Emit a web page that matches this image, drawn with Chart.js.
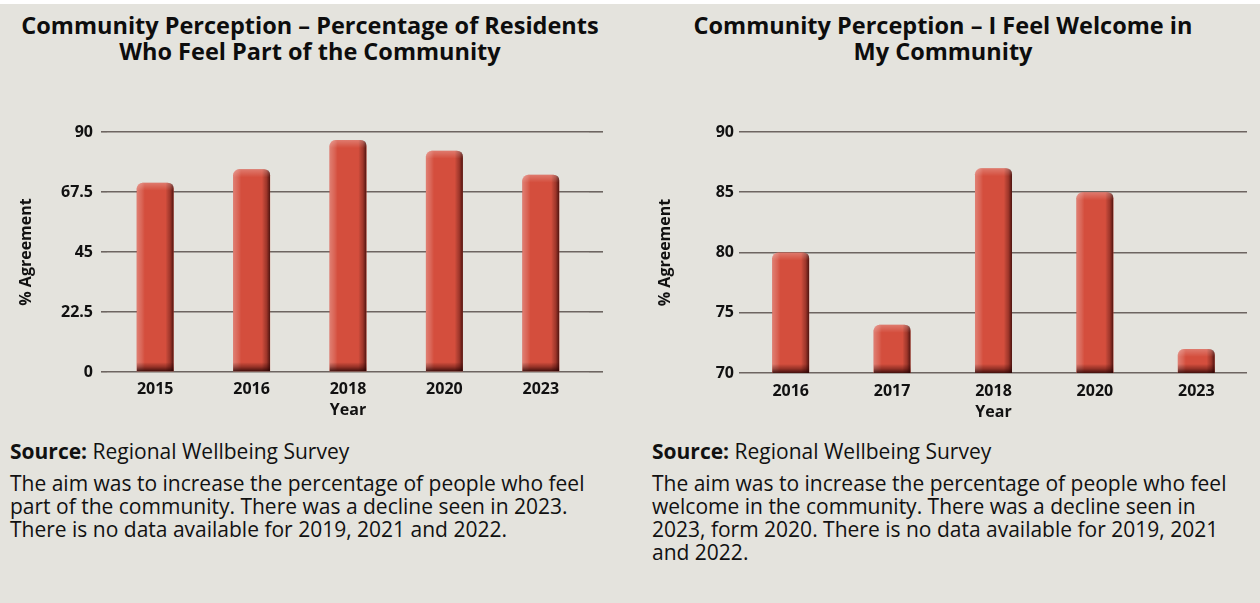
<!DOCTYPE html>
<html>
<head>
<meta charset="utf-8">
<script src="https://cdn.jsdelivr.net/npm/chart.js@4.4.1/dist/chart.umd.min.js"></script>
<style>
  html, body { margin:0; padding:0; }
  body { width:1260px; height:603px; background:#e4e3dd; position:relative; overflow:hidden;
         font-family:"Open Sans", "Noto Sans", sans-serif; color:#111; }
  .topbar { position:absolute; left:0; top:0; width:1260px; height:4px; background:#ffffff; }
  .title { position:absolute; font-weight:700; font-size:23.5px; line-height:26px; text-align:center; color:#0d0d0d; white-space:nowrap; }
  .src { position:absolute; font-size:21px; line-height:23px; white-space:nowrap; }
  .body { position:absolute; font-size:21px; line-height:23px; white-space:nowrap; }
  canvas { position:absolute; }
</style>
</head>
<body>
<div class="topbar"></div>
<div class="title" id="t1" style="left:0; top:12px; width:620px;">Community Perception – Percentage of Residents<br>Who Feel Part of the Community</div>
<div class="title" id="t2" style="left:640px; top:12px; width:606px;">Community Perception – I Feel Welcome in<br>My Community</div>

<div style="position:absolute; left:0; top:100px; width:630px; height:330px;"><canvas id="c1" width="630" height="330"></canvas></div>
<div style="position:absolute; left:640px; top:100px; width:620px; height:330px;"><canvas id="c2" width="620" height="330"></canvas></div>

<div class="src" style="left:10px; top:440px;"><b>Source:</b> Regional Wellbeing Survey</div>
<div class="body" style="left:10px; top:472px;">The aim was to increase the percentage of people who feel<br>part of the community. There was a decline seen in 2023.<br>There is no data available for 2019, 2021 and 2022.</div>

<div class="src" style="left:652px; top:440px;"><b>Source:</b> Regional Wellbeing Survey</div>
<div class="body" style="left:652px; top:472px;">The aim was to increase the percentage of people who feel<br>welcome in the community. There was a decline seen in<br>2023, form 2020. There is no data available for 2019, 2021<br>and 2022.</div>

<script>
// ---- Data ----
const years1 = ["2015", "2016", "2018", "2020", "2023"];
const values1 = [71, 76, 87, 83, 74];
const ticks1 = [0, 22.5, 45, 67.5, 90];

const years2 = ["2016", "2017", "2018", "2020", "2023"];
const values2 = [80, 74, 87, 85, 72];
const ticks2 = [70, 75, 80, 85, 90];

const yTitle = "% Agreement";
const xTitle = "Year";

// ---- Styling ----
const GRID = "#6d6561";
const BAR = "#d44e3d";
const FONT = "'Open Sans', 'Noto Sans', sans-serif";

const barShade = {
  id: "barShade",
  afterDatasetsDraw(chart) {
    const ctx = chart.ctx;
    const area = chart.chartArea;
    const meta = chart.getDatasetMeta(0);
    meta.data.forEach(el => {
      const p = el.getProps(["x", "y", "base", "width"], true);
      const l = p.x - p.width / 2, r = p.x + p.width / 2, t = p.y;
      const b = Math.min(p.base, area.bottom);
      const rad = 6;
      ctx.save();
      ctx.beginPath();
      ctx.rect(area.left, area.top, area.right - area.left, area.bottom - area.top);
      ctx.clip();
      ctx.beginPath();
      ctx.moveTo(l, b);
      ctx.lineTo(l, t + rad);
      ctx.quadraticCurveTo(l, t, l + rad, t);
      ctx.lineTo(r - rad, t);
      ctx.quadraticCurveTo(r, t, r, t + rad);
      ctx.lineTo(r, b);
      ctx.closePath();
      ctx.clip();
      const gh = ctx.createLinearGradient(l, 0, r, 0);
      gh.addColorStop(0, "rgba(255,255,255,0.28)");
      gh.addColorStop(0.14, "rgba(255,255,255,0.12)");
      gh.addColorStop(0.22, "rgba(255,255,255,0)");
      gh.addColorStop(0.78, "rgba(0,0,0,0)");
      gh.addColorStop(0.9, "rgba(40,0,0,0.3)");
      gh.addColorStop(1, "rgba(30,0,0,0.75)");
      ctx.fillStyle = gh;
      ctx.fillRect(l, t, r - l, b - t);
      const gt = ctx.createLinearGradient(0, t, 0, t + 8);
      gt.addColorStop(0, "rgba(255,255,255,0.25)");
      gt.addColorStop(1, "rgba(255,255,255,0)");
      ctx.fillStyle = gt;
      ctx.fillRect(l, t, r - l, Math.min(8, b - t));
      const gb = ctx.createLinearGradient(0, b - 9, 0, b);
      gb.addColorStop(0, "rgba(40,0,0,0)");
      gb.addColorStop(0.5, "rgba(40,0,0,0.35)");
      gb.addColorStop(1, "rgba(30,0,0,0.8)");
      ctx.fillStyle = gb;
      ctx.fillRect(l, b - 9, r - l, 9);
      ctx.restore();
    });
  }
};

function makeChart(id, labels, values, ticks, cfg) {
  const tickSet = ticks.slice();
  const yCommon = {
    min: ticks[0], max: ticks[ticks.length - 1],
    afterBuildTicks: s => { s.ticks = tickSet.map(v => ({ value: v })); },
  };
  const tickFont = { family: FONT, size: 16, weight: "bold" };
  const scales = {
    x: {
      offset: true,
      grid: { display: false, drawTicks: false },
      border: { display: false },
      ticks: { color: "#111", font: tickFont, padding: cfg.xTickPad, maxRotation: 0 },
      title: { display: true, text: xTitle, color: "#111", font: tickFont, padding: { top: 0, bottom: cfg.xTitlePad } },
      afterFit: s => { s.height = cfg.xH; }
    },
    y: Object.assign({}, yCommon, {
      position: "left",
      grid: { color: GRID, lineWidth: 1.6, drawTicks: cfg.leftTick > 0, tickLength: cfg.leftTick, tickColor: GRID },
      border: { display: false },
      ticks: { color: "#111", font: tickFont, padding: cfg.tickPad, callback: v => String(v) },
      title: { display: true, text: yTitle, color: "#111", font: tickFont, padding: { top: cfg.yTitlePad, bottom: 0 } },
      afterFit: s => { s.width = cfg.yW; }
    })
  };
  if (cfg.rightTick > 0) {
    scales.y2 = Object.assign({}, yCommon, {
      position: "right",
      grid: { drawOnChartArea: false, color: GRID, lineWidth: 1.6, drawTicks: true, tickLength: cfg.rightTick, tickColor: GRID },
      border: { display: false },
      ticks: { display: false },
      afterFit: s => { s.width = cfg.rightTick; }
    });
  }
  return new Chart(document.getElementById(id), {
    type: "bar",
    data: {
      labels: labels,
      datasets: [{ data: values, backgroundColor: BAR, borderWidth: 0,
                   borderRadius: { topLeft: 6, topRight: 6, bottomLeft: 0, bottomRight: 0 }, borderSkipped: "bottom",
                   barPercentage: cfg.barPct, categoryPercentage: 1.0 }]
    },
    options: {
      responsive: false, animation: false,
      layout: { padding: { left: 0, right: cfg.padR, top: 32, bottom: 0 } },
      plugins: { legend: { display: false }, tooltip: { enabled: false } },
      scales: scales
    },
    plugins: [barShade]
  });
}

makeChart("c1", years1, values1, ticks1, {
  yW: 107, leftTick: 6, tickPad: 8, yTitlePad: 17, xH: 58, xTickPad: 8, xTitlePad: 10,
  rightTick: 14, padR: 27, barPct: 0.384
});
makeChart("c2", years2, values2, ticks2, {
  yW: 100, leftTick: 1, tickPad: 5, yTitlePad: 16, xH: 57, xTickPad: 9, xTitlePad: 8,
  rightTick: 0, padR: 13, barPct: 0.365
});
</script>
</body>
</html>
